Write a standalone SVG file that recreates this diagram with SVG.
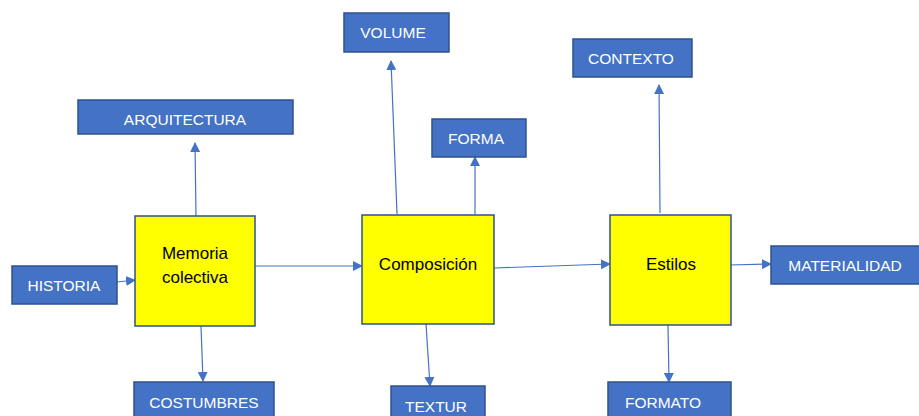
<svg xmlns="http://www.w3.org/2000/svg" width="919" height="416" viewBox="0 0 919 416">
<style>
.b{fill:#4472C4;stroke:#2F528F;stroke-width:1.5}
.y{fill:#FFFF00;stroke:#2F528F;stroke-width:1.5}
.bt{fill:#fff;font-family:"Liberation Sans",Arial,sans-serif;font-size:15.5px;text-anchor:middle}
.yt{fill:#000;font-family:"Liberation Sans",Arial,sans-serif;font-size:17px;text-anchor:middle}
.c{stroke:#4472C4;stroke-width:1.2;fill:none;marker-end:url(#a)}
</style>
<defs>
<marker id="a" markerWidth="10" markerHeight="10" refX="9" refY="5" orient="auto" markerUnits="userSpaceOnUse">
<path d="M0,0 L10,5 L0,10 Z" fill="#4472C4"/>
</marker>
</defs>
<rect width="919" height="416" fill="#fff"/>
<g id="connectors">
<path class="c" d="M117,282 L135,280"/>
<path class="c" d="M196,216 L195,143"/>
<path class="c" d="M201,326 L203,381"/>
<path class="c" d="M255,266 L362,266"/>
<path class="c" d="M397,214 L391,61"/>
<path class="c" d="M475,214 L475,157"/>
<path class="c" d="M426,324 L430,386"/>
<path class="c" d="M494,268 L610,264"/>
<path class="c" d="M660,213 L659,85"/>
<path class="c" d="M729,265 L771,264"/>
<path class="c" d="M668,325 L669,382"/>
</g>
<g id="historia"><rect class="b" x="12" y="266" width="105" height="38"/><text class="bt" x="64" y="291">HISTORIA</text></g>
<g id="arquitectura"><rect class="b" x="78" y="100" width="215" height="34"/><text class="bt" x="185" y="125">ARQUITECTURA</text></g>
<g id="costumbres"><rect class="b" x="134" y="382" width="140" height="40"/><text class="bt" x="204" y="408">COSTUMBRES</text></g>
<g id="memoria"><rect class="y" x="135" y="216" width="120" height="110"/><text class="yt" x="195" y="259">Memoria</text><text class="yt" x="195" y="283">colectiva</text></g>
<g id="volume"><rect class="b" x="344" y="13" width="105" height="39"/><text class="bt" x="393" y="38">VOLUME</text></g>
<g id="forma"><rect class="b" x="432" y="119" width="94" height="38"/><text class="bt" x="476" y="144">FORMA</text></g>
<g id="composicion"><rect class="y" x="362" y="215" width="132" height="109"/><text class="yt" x="428" y="270">Composición</text></g>
<g id="textur"><rect class="b" x="391" y="386" width="94" height="36"/><text class="bt" x="436" y="412">TEXTUR</text></g>
<g id="contexto"><rect class="b" x="573" y="39" width="119" height="38"/><text class="bt" x="631" y="64">CONTEXTO</text></g>
<g id="estilos"><rect class="y" x="610" y="215" width="121" height="110"/><text class="yt" x="671" y="270">Estilos</text></g>
<g id="materialidad"><rect class="b" x="771" y="246" width="150" height="38"/><text class="bt" x="845" y="271">MATERIALIDAD</text></g>
<g id="formato"><rect class="b" x="608" y="382" width="123" height="40"/><text class="bt" x="663" y="408">FORMATO</text></g>
</svg>
